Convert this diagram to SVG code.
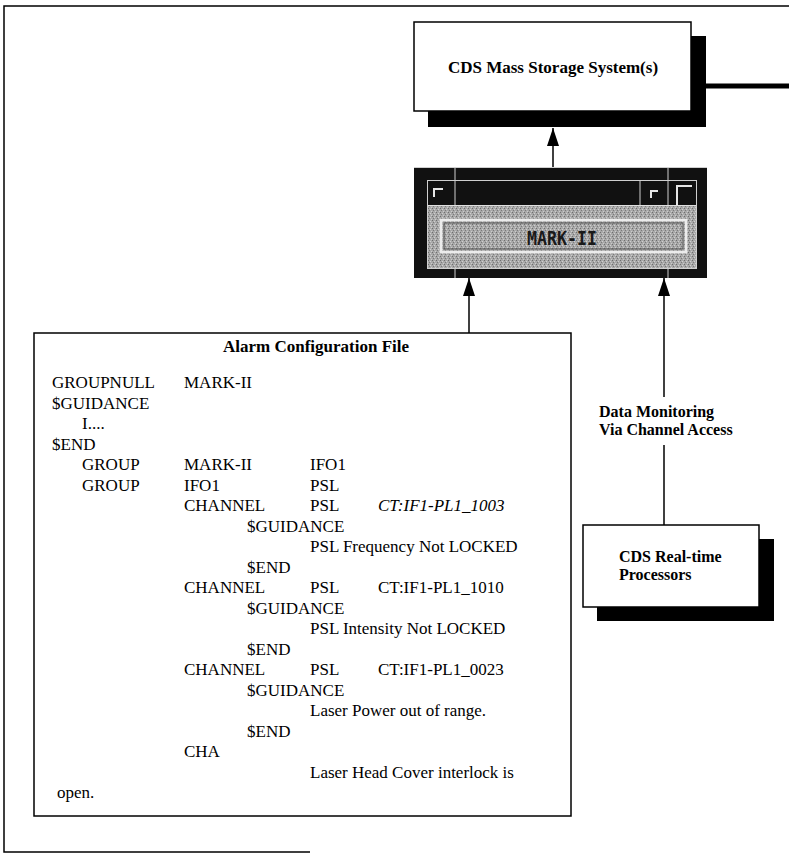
<svg xmlns="http://www.w3.org/2000/svg" width="789" height="859" viewBox="0 0 789 859">
<style>
  .box { fill:#fff; stroke:#000; stroke-width:1.5 }
  .shadow { fill:#000 }
  .t { font-family:"Liberation Serif","Times New Roman",serif; font-size:17px; fill:#000 }
  .b { font-weight:bold }
  .i { font-style:italic }
  .lbl { font-size:16px }
  .ln { stroke:#000; stroke-width:1.5; fill:none }
  .hl { stroke:#cfcfcf; stroke-width:1; fill:none }
  .ico { stroke:#e6e6e6; stroke-width:2; fill:none }
</style>
<defs>
  <marker id="arr" markerUnits="userSpaceOnUse" markerWidth="18" markerHeight="12" refX="18" refY="6" orient="auto">
    <path d="M0,0 L18,6 L0,12 Z" fill="#000"/>
  </marker>
  <pattern id="dither" width="4" height="4" patternUnits="userSpaceOnUse">
    <rect width="4" height="4" fill="#a8a8a8"/>
    <rect x="0" y="0" width="1" height="1" fill="#6e6e6e"/>
    <rect x="2" y="1" width="1" height="1" fill="#d0d0d0"/>
    <rect x="1" y="2" width="1" height="1" fill="#7a7a7a"/>
    <rect x="3" y="3" width="1" height="1" fill="#cccccc"/>
  </pattern>
</defs>

<g id="frame">
  <path d="M789,6 L4,6 L4,852 L310,852" class="ln"/>
</g>

<g id="connectors">
  <line x1="706" y1="86" x2="789" y2="86" stroke="#000" stroke-width="5"/>
  <line x1="553" y1="167" x2="553" y2="128" class="ln" marker-end="url(#arr)"/>
  <line x1="469" y1="333" x2="469" y2="278" class="ln" marker-end="url(#arr)"/>
  <line x1="664" y1="397" x2="664" y2="278" class="ln" marker-end="url(#arr)"/>
  <line x1="664" y1="445" x2="664" y2="525" class="ln"/>
  <g id="label-data-monitoring" class="t b lbl">
    <text x="599" y="417">Data Monitoring</text>
    <text x="599" y="435">Via Channel Access</text>
  </g>
</g>

<g id="mass-storage">
  <rect x="428" y="36" width="278" height="91" class="shadow"/>
  <rect x="414" y="22" width="277" height="89" class="box"/>
  <text x="553" y="73" class="t b" text-anchor="middle">CDS Mass Storage System(s)</text>
</g>

<g id="mark-ii">
  <rect x="414" y="167" width="293" height="111" fill="#111"/>
  <rect x="427.5" y="180.5" width="269" height="88" class="hl"/>
  <line x1="455" y1="167" x2="455" y2="205" class="hl"/>
  <line x1="455" y1="268" x2="455" y2="278" class="hl"/>
  <line x1="668" y1="167" x2="668" y2="205" class="hl"/>
  <line x1="668" y1="268" x2="668" y2="278" class="hl"/>
  <line x1="640" y1="180" x2="640" y2="205" class="hl"/>
  <line x1="414" y1="167.5" x2="707" y2="167.5" class="hl"/>
  <path d="M434,197 L434,189 L443,189" class="ico"/>
  <path d="M651,198 L651,191 L658,191" class="ico"/>
  <path d="M677,210 L677,186 L692,186" class="ico"/>
  <rect x="428" y="205" width="268" height="63" fill="url(#dither)"/>
  <line x1="428" y1="205.5" x2="696" y2="205.5" stroke="#e0e0e0" stroke-width="1"/>
  <rect x="441" y="220" width="245" height="32" fill="none" stroke="#ececec" stroke-width="2.5"/>
  <rect x="444" y="223" width="239" height="26" fill="none" stroke="#555" stroke-width="1"/>
  <text x="562" y="245" font-family="'DejaVu Sans Mono','Liberation Mono',monospace" font-size="19" font-weight="bold" fill="#1a1a1a" text-anchor="middle" textLength="70" lengthAdjust="spacingAndGlyphs">MARK-II</text>
</g>

<g id="realtime">
  <rect x="597" y="539" width="177" height="82" class="shadow"/>
  <rect x="583" y="525" width="176" height="82" class="box"/>
  <text x="619" y="562" class="t b lbl">CDS Real-time</text>
  <text x="619" y="580" class="t b lbl">Processors</text>
</g>

<g id="alarm-config">
  <rect x="34" y="333" width="537" height="483" class="box"/>
  <text x="223" y="352" class="t b" font-size="18">Alarm Configuration File</text>
  <g class="t">
    <text x="52" y="388">GROUPNULL</text><text x="184" y="388">MARK-II</text>
    <text x="52" y="408.5">$GUIDANCE</text>
    <text x="82" y="429">I....</text>
    <text x="52" y="449.5">$END</text>
    <text x="82" y="470">GROUP</text><text x="184" y="470">MARK-II</text><text x="310" y="470">IFO1</text>
    <text x="82" y="490.5">GROUP</text><text x="184" y="490.5">IFO1</text><text x="310" y="490.5">PSL</text>
    <text x="184" y="511">CHANNEL</text><text x="310" y="511">PSL</text><text x="378" y="511" class="i">CT:IF1-PL1_1003</text>
    <text x="247" y="531.5">$GUIDANCE</text>
    <text x="310" y="552">PSL Frequency Not LOCKED</text>
    <text x="247" y="572.5">$END</text>
    <text x="184" y="593">CHANNEL</text><text x="310" y="593">PSL</text><text x="378" y="593">CT:IF1-PL1_1010</text>
    <text x="247" y="613.5">$GUIDANCE</text>
    <text x="310" y="634">PSL Intensity Not LOCKED</text>
    <text x="247" y="654.5">$END</text>
    <text x="184" y="675">CHANNEL</text><text x="310" y="675">PSL</text><text x="378" y="675">CT:IF1-PL1_0023</text>
    <text x="247" y="695.5">$GUIDANCE</text>
    <text x="310" y="716">Laser Power out of range.</text>
    <text x="247" y="736.5">$END</text>
    <text x="184" y="757">CHA</text>
    <text x="310" y="777.5">Laser Head Cover interlock is</text>
    <text x="57" y="798">open.</text>
  </g>
</g>
</svg>
